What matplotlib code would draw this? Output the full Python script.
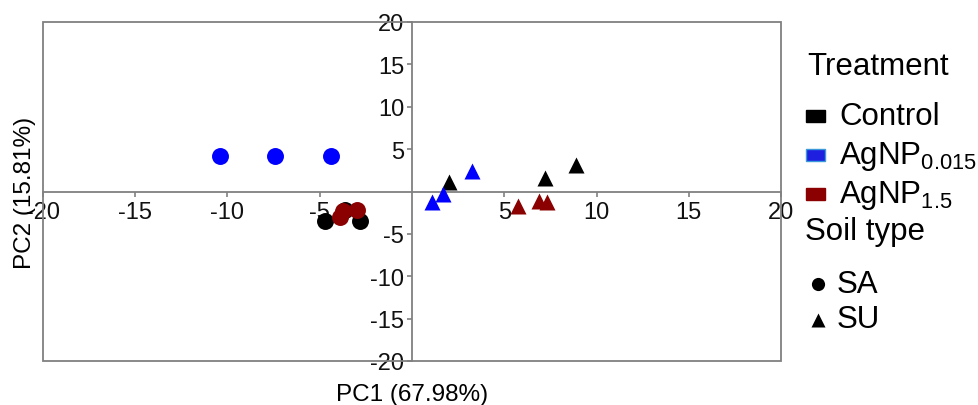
import numpy as np
import matplotlib.pyplot as plt
from matplotlib.patches import Rectangle
from matplotlib.lines import Line2D

plt.rcParams['font.family'] = ['Liberation Sans', 'DejaVu Sans']
plt.rcParams['mathtext.default'] = 'regular'

# PCA scores (PC1, PC2) per treatment and soil type
ctrl_sa_x = [-4.72, -3.63, -2.82]
ctrl_sa_y = [-3.48, -2.18, -3.48]
low_sa_x = [-10.4, -7.43, -4.39]
low_sa_y = [4.19, 4.19, 4.19]
high_sa_x = [-3.9, -3.74, -2.98]
high_sa_y = [-3.0, -2.3, -2.18]

ctrl_su_x = [2.0, 7.2, 8.89]
ctrl_su_y = [1.12, 1.59, 3.1]
low_su_x = [1.08, 1.68, 3.25]
low_su_y = [-1.24, -0.3, 2.42]
high_su_x = [5.75, 6.88, 7.32]
high_su_y = [-1.71, -1.12, -1.24]

ticks = [-20, -15, -10, -5, 5, 10, 15, 20]
c_ctrl, c_low, c_high = 'black', '#0000ff', '#8b0000'
grey = '#808080'

fig = plt.figure(figsize=(9.79, 4.06), dpi=100)
ax = fig.add_axes([43/979, 44/406, 738/979, 339/406])
ax.set_xlim(-20, 20)
ax.set_ylim(-20, 20)
ax.set_axisbelow(True)

# axes cross through the origin, box drawn separately
for s in ['top', 'right']:
    ax.spines[s].set_visible(False)
for s in ['left', 'bottom']:
    ax.spines[s].set_position(('data', 0))
    ax.spines[s].set_color(grey)
    ax.spines[s].set_linewidth(1.3)
ax.add_patch(Rectangle((0, 0), 1, 1, transform=ax.transAxes, fill=False,
                       edgecolor=grey, linewidth=1.3, clip_on=False, zorder=0.6))

ax.set_xticks(ticks)
ax.set_yticks(ticks)
ax.set_xticklabels([str(t) for t in ticks])
ax.set_yticklabels([str(t) for t in ticks])
ax.tick_params(axis='both', direction='out', length=3.5, width=1.2, color=grey,
               labelsize=17, pad=2, labelcolor='#111111')
ax.tick_params(axis='x', pad=3)

ax.set_xlabel('PC1 (67.98%)', fontsize=17.5)
ax.set_ylabel('PC2 (15.81%)', fontsize=17.5)
ax.xaxis.set_label_coords(0.5, -0.064)
ax.yaxis.set_label_coords(-0.01, 0.5)

ms_c, ms_t = 12.2, 11.5
ax.plot(low_sa_x, low_sa_y, 'o', ms=ms_c, color=c_low, mec='none', zorder=3)
ax.plot(ctrl_sa_x, ctrl_sa_y, 'o', ms=ms_c, color=c_ctrl, mec='none', zorder=3)
ax.plot(high_sa_x, high_sa_y, 'o', ms=ms_c, color=c_high, mec='none', zorder=3)
ax.plot(ctrl_su_x, ctrl_su_y, '^', ms=ms_t, color=c_ctrl, mec='none', zorder=3)
ax.plot(low_su_x, low_su_y, '^', ms=ms_t, color=c_low, mec='none', zorder=3)
ax.plot(high_su_x, high_su_y, '^', ms=ms_t, color=c_high, mec='none', zorder=3)

# legend built by hand in pixel coordinates
W, H = 979, 406
def fx(x): return x / W
def fy(y): return 1 - y / H

lg = 22.5
fig.text(fx(807), fy(75), 'Treatment', fontsize=lg, va='baseline')
sq = [('Control', c_ctrl, c_ctrl, 111, 125),
      ('AgNP$_{0.015}$', '#1f1fe0', '#3a9ad9', 150, 164),
      ('AgNP$_{1.5}$', c_high, c_high, 189, 203)]
for name, fc, ec, top, base in sq:
    fig.add_artist(Rectangle((fx(806), fy(top + 12)), 19 / W, 12 / H,
                             transform=fig.transFigure, facecolor=fc,
                             edgecolor=ec, linewidth=1))
    fig.text(fx(839), fy(base), name, fontsize=lg, va='baseline')

fig.text(fx(805), fy(240), 'Soil type', fontsize=lg, va='baseline')
fig.add_artist(Line2D([fx(818)], [fy(285)], marker='o', ms=9.5, color='black',
                      mec='none', transform=fig.transFigure))
fig.text(fx(837), fy(293), 'SA', fontsize=lg, va='baseline')
fig.add_artist(Line2D([fx(818)], [fy(321)], marker='^', ms=10.5, color='black',
                      mec='none', transform=fig.transFigure))
fig.text(fx(837), fy(328), 'SU', fontsize=lg, va='baseline')

fig.savefig('out.png', dpi=100)
